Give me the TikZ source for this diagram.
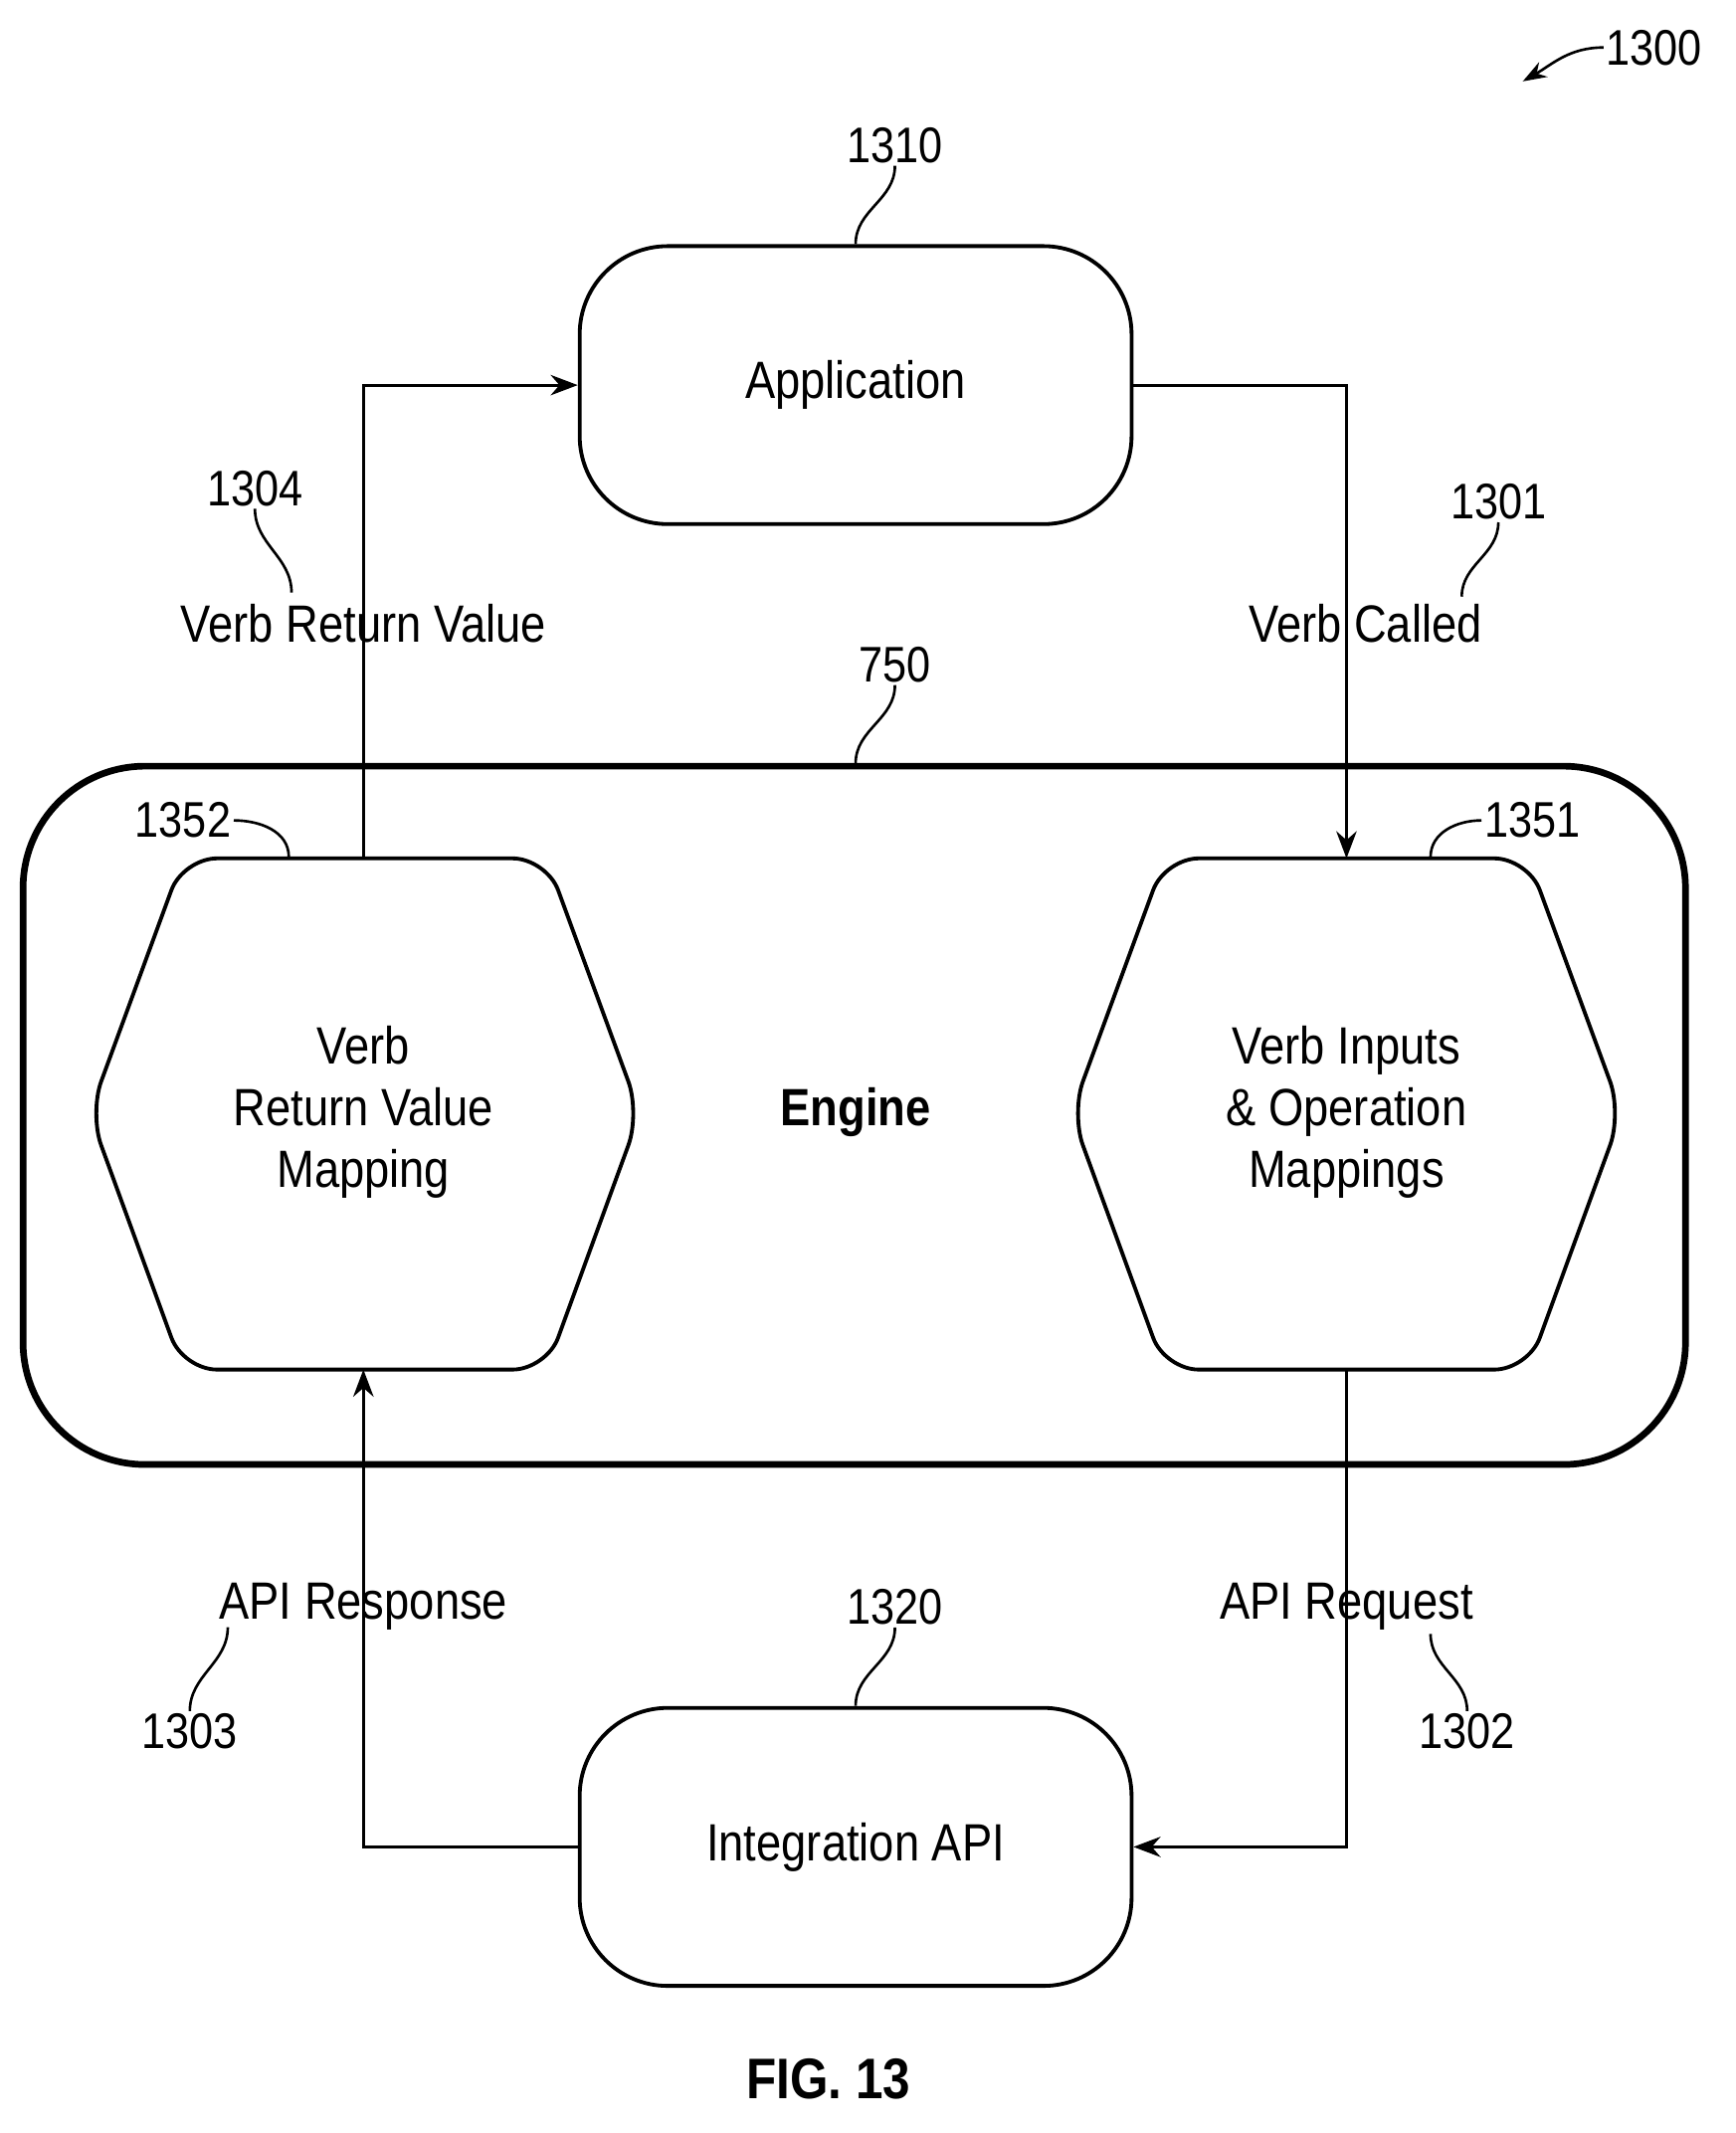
\documentclass[tikz,border=0pt]{standalone}
\usepackage{fontspec}
\setmainfont{Liberation Sans}[FakeStretch=0.86]
\usetikzlibrary{arrows.meta}

\tikzset{
  box/.style={draw, line width=1.6pt, rounded corners=13mm, minimum width=81.4mm, minimum height=41mm, font=\fontsize{22}{26}\selectfont},
  lbl/.style={font=\fontsize{22}{26}\selectfont, inner sep=1pt},
  num/.style={font=\fontsize{21}{24}\selectfont, inner sep=1pt},
  lead/.style={line width=1.1pt},
  flow/.style={line width=1.3pt, -{Stealth[length=4mm, width=3mm]}}
}

\begin{document}
\begin{tikzpicture}[x=0.2mm, y=-0.2mm]
\useasboundingbox (0,0) rectangle (1280,1573);

% engine frame
\draw[line width=2.8pt, rounded corners=18mm] (17,565) rectangle (1243,1080);
\node[font=\bfseries\fontsize{22}{26}\selectfont] (engine) at (631,820) {Engine};

% boxes
\node[box] (app) at (631,284) {Application};
\node[box] (iapi) at (631,1362) {Integration API};

% hexagons
\draw[line width=1.6pt, rounded corners=5mm] (135,633) -- (403,633) -- (472,821) -- (403,1010) -- (135,1010) -- (66,821) -- cycle;
\draw[line width=1.6pt, rounded corners=5mm] (859,633) -- (1127,633) -- (1196,821) -- (1127,1010) -- (859,1010) -- (790,821) -- cycle;
\node[lbl, align=center] (retmap) at (268,820) {Verb\\Return Value\\Mapping};
\node[lbl, align=center] (inmap) at (993,820) {Verb Inputs\\\& Operation\\Mappings};
\coordinate (rettop) at (268,633);
\coordinate (retbot) at (268,1010);
\coordinate (intop) at (993,633);
\coordinate (inbot) at (993,1010);

% connectors
\draw[flow] (app.east) -| (intop);
\draw[flow] (rettop) |- (app.west);
\draw[flow] (inbot) |- (iapi.east);
\draw[flow] (iapi.west) -| (retbot);

% connector labels
\node[lbl] (retval) at (268,460) {Verb Return Value};
\node[lbl] (called) at (1007,460) {Verb Called};
\node[lbl] (resp) at (268,1185) {API Response};
\node[lbl] (req) at (993,1185) {API Request};

% reference numerals
\node[num] (n1300) at (1220,35) {1300};
\node[num] (n1310) at (660,107) {1310};
\node[num] (n1304) at (188,360) {1304};
\node[num] (n1301) at (1105,370) {1301};
\node[num] (n750) at (660,490) {750};
\node[num] (n1352) at (135,605) {1352};
\node[num] (n1351) at (1130,605) {1351};
\node[num] (n1320) at (660,1185) {1320};
\node[num] (n1303) at (140,1277) {1303};
\node[num] (n1302) at (1082,1277) {1302};

\draw[lead, -{Stealth[length=3.5mm, width=2.5mm]}] (n1300.west) to[out=180, in=30] (1123,60);
\draw[lead] (n1310.south) to[out=-90, in=90] (631,180);
\draw[lead] (n750.south) to[out=-90, in=90] (631,563);
\draw[lead] (n1320.south) to[out=-90, in=90] (631,1258);
\draw[lead] (n1304.south) to[out=-90, in=90] (215,437);
\draw[lead] (n1301.south) to[out=-90, in=90] (1078,440);
\draw[lead] (n1352.east) to[out=0, in=90] (213,632);
\draw[lead] (n1351.west) to[out=180, in=90] (1055,632);
\draw[lead] (n1303.north) to[out=90, in=-90] (168,1200);
\draw[lead] (n1302.north) to[out=90, in=-90] (1055,1205);

\node[font=\bfseries\fontsize{24}{28}\selectfont] (fig) at (611,1533) {FIG. 13};
\end{tikzpicture}
\end{document}
